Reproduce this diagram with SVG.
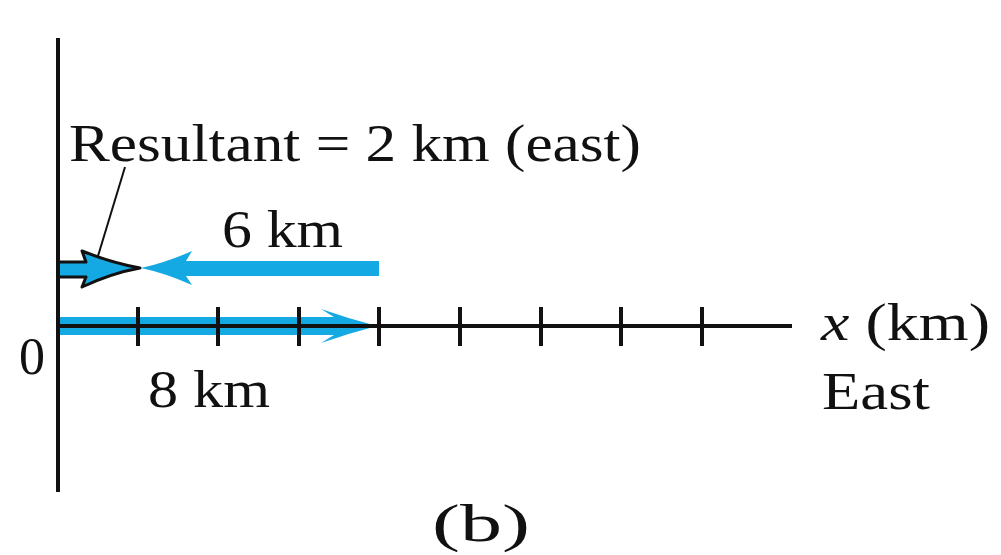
<svg xmlns="http://www.w3.org/2000/svg" width="1001" height="555" viewBox="0 0 1001 555">
<style>
.t{font-family:"Liberation Serif","Times New Roman",serif;font-size:52px;fill:#111}
.ax{stroke:#111;stroke-width:4;fill:none}
.blue{fill:#14A9E2}
</style>
<rect width="1001" height="555" fill="#fff"/>
<g id="connectors">
<path id="arrow-8km" class="blue" d="M58,317 H334 L321,309 Q348,318.5 377,326 Q348,333.5 321,343 L334,335 H58 Z"/>
<path id="arrow-6km" class="blue" d="M379,261 H186 L192,251 Q165,263 141,268 Q165,273 192,285 L186,276 H379 Z"/>
<path id="arrow-resultant" class="blue" stroke="#111" stroke-width="3" stroke-linejoin="round" d="M58,262 H86 L82,251 Q112,263 140,268 Q112,273 82,287 L86,277 H58"/>
<line id="leader" x1="125" y1="167" x2="98" y2="256" stroke="#111" stroke-width="2"/>
</g>
<g id="axes">
<line class="ax" x1="58" y1="38" x2="58" y2="492"/>
<line class="ax" x1="56" y1="326" x2="792" y2="326"/>
<g class="ax">
<line x1="138" y1="307" x2="138" y2="346"/>
<line x1="218" y1="307" x2="218" y2="346"/>
<line x1="299" y1="307" x2="299" y2="346"/>
<line x1="379" y1="307" x2="379" y2="346"/>
<line x1="460" y1="307" x2="460" y2="346"/>
<line x1="541" y1="307" x2="541" y2="346"/>
<line x1="621" y1="307" x2="621" y2="346"/>
<line x1="702" y1="307" x2="702" y2="346"/>
</g>
</g>
<g id="labels">
<text class="t" x="69" y="161" textLength="572" lengthAdjust="spacingAndGlyphs">Resultant  = 2 km (east)</text>
<text class="t" x="222" y="247" textLength="121" lengthAdjust="spacingAndGlyphs">6 km</text>
<text class="t" x="148" y="407" textLength="122" lengthAdjust="spacingAndGlyphs">8 km</text>
<text class="t" x="19" y="374" font-size="57">0</text>
<text class="t" x="821" y="340" textLength="169" lengthAdjust="spacingAndGlyphs"><tspan font-style="italic">x</tspan> (km)</text>
<text class="t" x="822" y="409" textLength="108" lengthAdjust="spacingAndGlyphs">East</text>
<text class="t" x="432" y="541" textLength="98" lengthAdjust="spacingAndGlyphs">(b)</text>
</g>
</svg>
